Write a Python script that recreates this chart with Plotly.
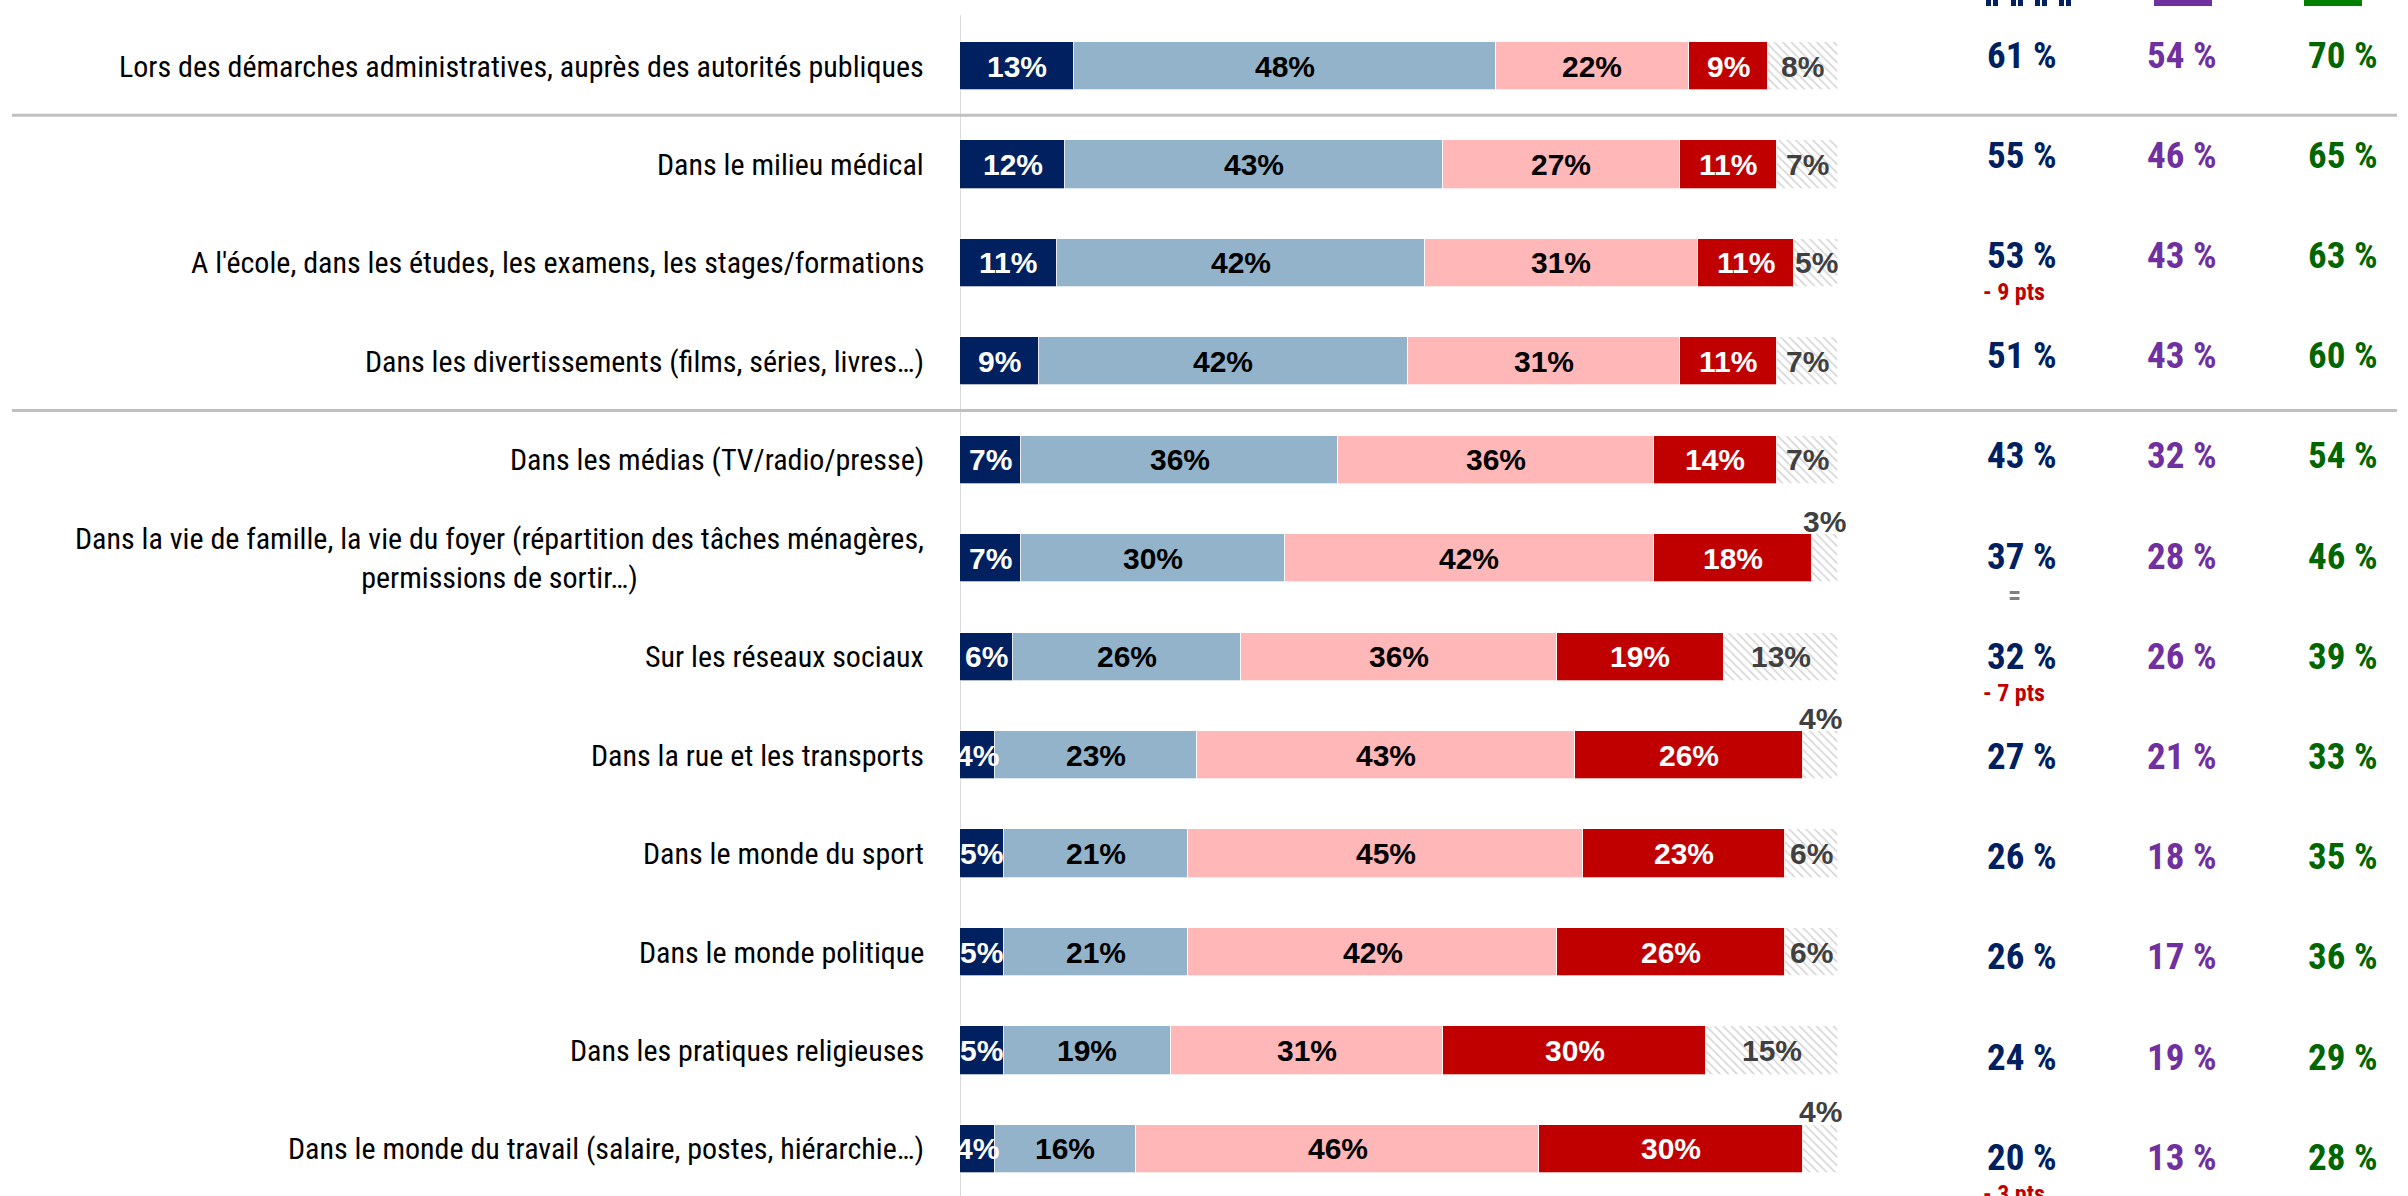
import plotly.graph_objects as go

categories = [
    "Lors des démarches administratives, auprès des autorités publiques",
    "Dans le milieu médical",
    "A l'école, dans les études, les examens, les stages/formations",
    "Dans les divertissements (films, séries, livres…)",
    "Dans les médias (TV/radio/presse)",
    "Dans la vie de famille, la vie du foyer (répartition des tâches ménagères,<br>permissions de sortir…)",
    "Sur les réseaux sociaux",
    "Dans la rue et les transports",
    "Dans le monde du sport",
    "Dans le monde politique",
    "Dans les pratiques religieuses",
    "Dans le monde du travail (salaire, postes, hiérarchie…)",
]

tres = [13, 12, 11, 9, 7, 7, 6, 4, 5, 5, 5, 4]
assez = [48, 43, 42, 42, 36, 30, 26, 23, 21, 21, 19, 16]
peu = [22, 27, 31, 31, 36, 42, 36, 43, 45, 42, 31, 46]
pas = [9, 11, 11, 11, 14, 18, 19, 26, 23, 26, 30, 30]
nsp = [8, 7, 5, 7, 7, 3, 13, 4, 6, 6, 15, 4]

col_ensemble = [61, 55, 53, 51, 43, 37, 32, 27, 26, 26, 24, 20]
col_hommes = [54, 46, 43, 43, 32, 28, 26, 21, 18, 17, 19, 13]
col_femmes = [70, 65, 63, 60, 54, 46, 39, 33, 35, 36, 29, 28]
evolution = ["", "", "- 9 pts", "", "", "=", "- 7 pts", "", "", "", "", "- 3 pts"]

series = [
    ("Tout à fait", tres, "#002060", "white"),
    ("Plutôt", assez, "#93B3CA", "black"),
    ("Plutôt pas", peu, "#FFB7B7", "black"),
    ("Pas du tout", pas, "#C00000", "white"),
    ("Ne se prononce pas", nsp, "white", "#404040"),
]

W, H = 2408, 1196
row0_px, row_step = 66.0, 98.45
n = len(categories)
y_top = -row0_px / row_step
y_bot = (n - 1) + (H - (row0_px + row_step * (n - 1))) / row_step

NARROW = "Roboto Condensed, Liberation Sans Narrow, DejaVu Sans Condensed, sans-serif"
BOLD = "Liberation Sans, Arial, sans-serif"

ys = list(range(n))
fig = go.Figure()
for name, vals, color, tcolor in series:
    kw = {}
    if name == "Ne se prononce pas":
        kw["pattern"] = dict(shape="\\", fgcolor="#A6A6A6", bgcolor="white",
                             size=6, solidity=0.25, fillmode="overlay")
    fig.add_trace(go.Bar(
        x=vals, y=ys, orientation="h", name=name, width=0.49,
        marker=dict(color=color, line=dict(color="rgba(255,255,255,0.7)", width=1), **kw),
        showlegend=False, hoverinfo="skip",
    ))

annotations = []
# segment labels
for i in ys:
    cum = 0
    for k, (name, vals, color, tcolor) in enumerate(series):
        v = vals[i]
        mid = cum + v / 2
        cum += v
        ys_shift = 0
        if k == len(series) - 1 and v <= 4:
            ys_shift = 37
        annotations.append(dict(
            x=mid, y=i, xref="x", yref="y", text=f"<b>{v}%</b>", showarrow=False,
            xanchor="center", yanchor="middle", yshift=ys_shift,
            font=dict(family=BOLD, size=30, color=tcolor),
        ))

# category labels
for i, c in enumerate(categories):
    annotations.append(dict(
        x=926 / W, y=i, xref="paper", yref="y", text=c, showarrow=False,
        xanchor="right", yanchor="middle", align="center",
        font=dict(family=NARROW, size=30, color="black"),
    ))

# right columns
cols = [(col_ensemble, "#002060", 2022), (col_hommes, "#7030A0", 2182), (col_femmes, "#006600", 2343)]
for vals, color, xp in cols:
    for i, v in enumerate(vals):
        shift = 11 - 1.75 * i
        annotations.append(dict(
            x=xp / W, y=i, xref="paper", yref="y", text=f"<b>{v} %</b>", showarrow=False,
            xanchor="center", yanchor="middle", yshift=shift,
            font=dict(family=NARROW, size=37, color=color),
        ))

for i, ev in enumerate(evolution):
    if ev:
        is_eq = ev == "="
        shift = 11 - 1.75 * i - (39 if is_eq else 37)
        col = "#7F7F7F" if is_eq else "#C00000"
        size = 26 if is_eq else 24
        annotations.append(dict(
            x=2014 / W, y=i, xref="paper", yref="y", text=f"<b>{ev}</b>", showarrow=False,
            xanchor="center", yanchor="middle", yshift=shift,
            font=dict(family=NARROW, size=size, color=col),
        ))

shapes = []
# vertical axis line
shapes.append(dict(type="line", xref="x", yref="y", x0=0, x1=0,
                   y0=y_top + 15 / row_step, y1=y_bot,
                   line=dict(color="#D9D9D9", width=2), layer="below"))
# group separators
for yy in [0.5, 3.5]:
    shapes.append(dict(type="line", xref="paper", yref="y", x0=12 / W, x1=2397 / W,
                       y0=yy, y1=yy, line=dict(color="#C0C0C0", width=3)))

# cut-off legend markers at top
leg_y0 = 1 - 6 / H
for x0 in [1986, 2011, 2035, 2059]:
    for dx in [0, 7]:
        shapes.append(dict(type="rect", xref="paper", yref="paper",
                           x0=(x0 + dx) / W, x1=(x0 + dx + 5) / W, y0=leg_y0, y1=1,
                           fillcolor="#002060", line=dict(width=0)))
shapes.append(dict(type="rect", xref="paper", yref="paper", x0=2154 / W, x1=2212 / W,
                   y0=leg_y0, y1=1, fillcolor="#7030A0", line=dict(width=0)))
shapes.append(dict(type="rect", xref="paper", yref="paper", x0=2304 / W, x1=2362 / W,
                   y0=leg_y0, y1=1, fillcolor="#008000", line=dict(width=0)))

fig.update_layout(
    width=W, height=H, barmode="stack", bargap=0,
    margin=dict(l=0, r=0, t=0, b=0),
    paper_bgcolor="white", plot_bgcolor="white",
    xaxis=dict(domain=[960 / W, 1838 / W], range=[0, 100], visible=False, fixedrange=True),
    yaxis=dict(range=[y_bot, y_top], visible=False, fixedrange=True),
    annotations=annotations, shapes=shapes, showlegend=False,
)

fig.write_html("out.html", config={"displayModeBar": False},
               post_script="document.body.style.margin='0';document.body.style.overflow='hidden';")
